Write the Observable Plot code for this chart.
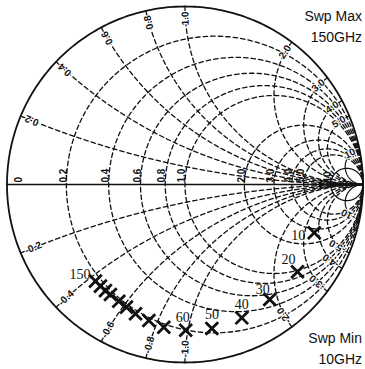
<!DOCTYPE html>
<html>
<head>
<meta charset="utf-8">
<script src="https://cdn.jsdelivr.net/npm/d3@7"></script>
<script src="https://cdn.jsdelivr.net/npm/@observablehq/plot@0.6"></script>
<style>
  body { margin: 0; background: #fff; }
  g[aria-label="grid labels"] text { letter-spacing: 1.2px; }
</style>
</head>
<body>
<div id="chart"></div>
<script>
// Smith chart grid: constant-resistance circles and constant-reactance arcs
const resistances = [0.2, 0.4, 0.6, 0.8, 1, 2, 3, 4, 5, 10];
const resistanceLabels = ["0.2", "0.4", "0.6", "0.8", "1.0", "2.0", "3.0", "4.0", "5.0", "10"];
const reactances = [0.2, 0.4, 0.6, 0.8, 1, 2, 3, 4, 5, 10];
const reactanceLabels = ["0.2", "0.4", "0.6", "0.8", "1.0", "2.0", "3.0", "4.0", "5.0", "10"];

// Measured S-parameter sweep, 10 GHz .. 150 GHz (reflection coefficient)
const freqGHz = [10, 20, 30, 40, 50, 60, 70, 80, 90, 100, 110, 120, 130, 140, 150];
const gammaRe = [0.726, 0.632, 0.476, 0.319, 0.151, 0.004, -0.119, -0.203, -0.278, -0.329, -0.372, -0.419, -0.447, -0.475, -0.503];
const gammaIm = [-0.271, -0.490, -0.646, -0.749, -0.809, -0.819, -0.802, -0.764, -0.726, -0.689, -0.656, -0.618, -0.596, -0.571, -0.543];
const labelledFreqs = [10, 20, 30, 40, 50, 60, 150];

const W = 365, H = 369;
const cx = 184.5, cy = 184, R = 178;   // chart centre and radius in pixels
const px = 1 / R;                     // one pixel in reflection-coefficient units

// z = a + jb  ->  Γ = (z - 1) / (z + 1)
function gamma(a, b) {
  const d = (a + 1) ** 2 + b * b;
  return [(a * a - 1 + b * b) / d, (2 * b) / d];
}

const grid = [];
resistances.forEach(r => {
  const c = r / (r + 1), rad = 1 / (r + 1);
  for (let k = 0; k <= 360; k++) {
    const a = (2 * Math.PI * k) / 360;
    grid.push({id: "r" + r, solid: r === 10, x: c + rad * Math.cos(a), y: rad * Math.sin(a)});
  }
});
reactances.forEach(xv => {
  [xv, -xv].forEach(x => {
    for (let k = 0; k <= 600; k++) {
      const s = k / 600;
      const [gr, gi] = s >= 1 ? [1, 0] : gamma(s / (1 - s), x);
      grid.push({id: "x" + x, solid: xv === 10, x: gr, y: gi});
    }
  });
});
const rim = d3.range(0, 361).map(k => ({x: Math.cos(k * Math.PI / 180), y: Math.sin(k * Math.PI / 180)}));

// Resistance labels sit on the real axis just left of each circle
const rLabels = [{x: -1 + 12 * px, text: "0"}].concat(
  resistances.map((r, i) => ({x: (r - 1) / (r + 1) - 3 * px, text: resistanceLabels[i]}))
);

// Reactance labels sit along each arc, a few pixels in from the rim
function arcPoint(x, s) {
  const ax = Math.abs(x);
  const u = ax * Math.tan(s * ax / 2 + Math.atan(1 / ax));
  const [gr, gi] = gamma(u - 1, x);
  return {x: gr, y: gi, ang: 2 * Math.atan2(x, u) * 180 / Math.PI};
}
const upperLabels = reactances.map((x, i) => {
  const p = arcPoint(x, 5 * px);
  return {...p, rot: p.ang + 180, text: reactanceLabels[i]};
});
const lowerLabels = reactances.map((x, i) => {
  const p = arcPoint(-x, 5 * px);
  return {...p, rot: p.ang, text: "-" + reactanceLabels[i]};
});

const sweep = freqGHz.map((f, i) => ({f, re: gammaRe[i], im: gammaIm[i]}));
const labelOffset = {10: [-9, 3, "end"], 20: [-2, -12, "end"], 30: [0, -10, "end"], 40: [0, -13, "middle"],
                     50: [0, -14, "middle"], 60: [-3, -13, "middle"], 150: [-5, -7, "end"]};
const tagged = sweep.filter(d => labelledFreqs.includes(d.f));

const gridFont = {fontFamily: "Liberation Sans, Arial, sans-serif", fontSize: 10, fontWeight: "bold", fill: "#111"};

const chart = Plot.plot({
  width: W,
  height: H,
  margin: 0,
  x: {domain: [-cx * px, (W - cx) * px], range: [0, W], axis: null},
  y: {domain: [(cy - H) * px, cy * px], range: [H, 0], axis: null},
  marks: [
    Plot.line(grid.filter(d => !d.solid), {x: "x", y: "y", z: "id", stroke: "#111", strokeWidth: 1.3, strokeDasharray: "4.5,3"}),
    Plot.line(grid.filter(d => d.solid), {x: "x", y: "y", z: "id", stroke: "#111", strokeWidth: 1.2}),
    Plot.line(rim, {x: "x", y: "y", stroke: "#111", strokeWidth: 1.8}),
    Plot.line([{x: -1, y: 0}, {x: 1, y: 0}], {x: "x", y: "y", stroke: "#111", strokeWidth: 1.5}),
    Plot.text(rLabels, {x: "x", y: () => 2 * px, text: "text", rotate: -90, textAnchor: "start", ariaLabel: "grid labels", ...gridFont}),
    Plot.text(upperLabels, {x: "x", y: "y", rotate: "rot", text: "text", textAnchor: "end", stroke: "white", strokeWidth: 2, ariaLabel: "grid labels", ...gridFont}),
    Plot.text(lowerLabels, {x: "x", y: "y", rotate: "rot", text: "text", textAnchor: "start", stroke: "white", strokeWidth: 2, ariaLabel: "grid labels", ...gridFont}),
    Plot.dot(sweep, {x: "re", y: "im", symbol: "times", r: 5.8, stroke: "#111", strokeWidth: 2.8}),
    ...Object.entries(labelOffset).map(([f, [dx, dy, anchor]]) =>
      Plot.text(tagged.filter(d => d.f === +f), {x: "re", y: "im", text: d => String(d.f), dx, dy, textAnchor: anchor,
        fontFamily: "Liberation Serif, Times New Roman, serif", fontSize: 14, fill: "#111"}))
  ]
});

// Sweep limit annotations in the corners
const svg = d3.select(chart);
const corner = [["Swp Max", 21], ["150GHz", 42], ["Swp Min", 343], ["10GHz", 364]];
svg.selectAll("text.corner").data(corner).join("text")
  .attr("class", "corner")
  .attr("x", W - 3).attr("y", d => d[1])
  .attr("text-anchor", "end")
  .attr("font-family", "Liberation Sans, Arial, sans-serif")
  .attr("font-size", 14)
  .attr("fill", "#111")
  .text(d => d[0]);
document.getElementById("chart").append(chart);
</script>
</body>
</html>
